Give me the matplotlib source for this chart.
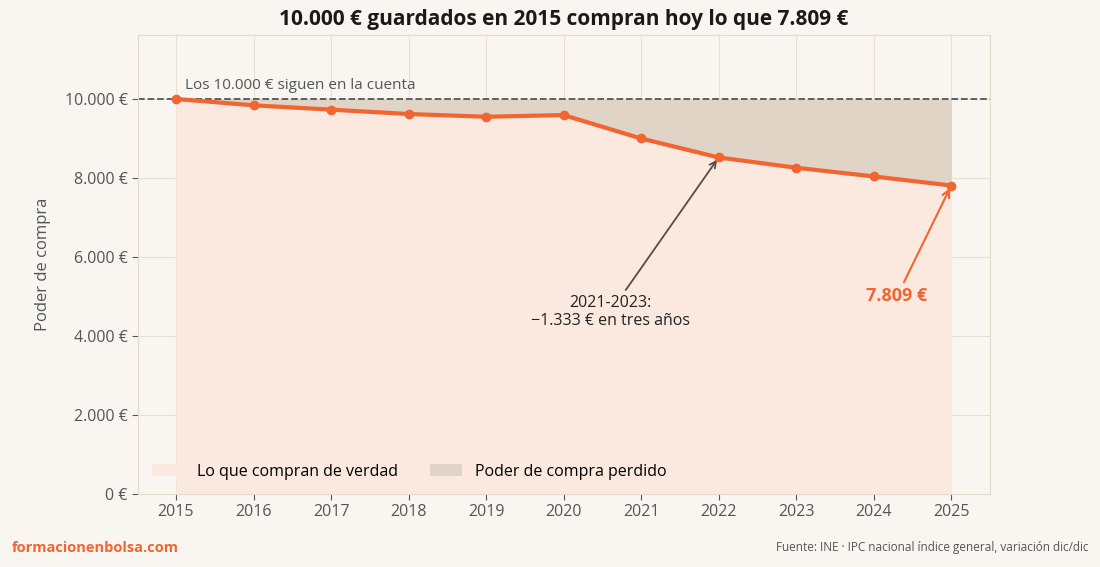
import matplotlib
matplotlib.use("Agg")
import matplotlib.pyplot as plt
from matplotlib.ticker import FuncFormatter

years = [2015, 2016, 2017, 2018, 2019, 2020, 2021, 2022, 2023, 2024, 2025]
values = [10000, 9840, 9730, 9620, 9550, 9593, 9000, 8520, 8260, 8040, 7809]
base = 10000

plt.rcParams['font.family'] = ['Open Sans', 'DejaVu Sans']
bg = '#f9f6f1'
orange = '#f26430'
fig = plt.figure(figsize=(11, 5.67), dpi=100, facecolor=bg)
ax = fig.add_axes([138/1100, 1-494/567, (990-138)/1100, (494-35)/567])
ax.set_facecolor(bg)

ax.fill_between(years, 0, values, color='#fbe9df', label='Lo que compran de verdad', lw=0)
ax.fill_between(years, values, base, color='#dfd4c5', label='Poder de compra perdido', lw=0)
ax.axhline(base, color='#555', ls='--', lw=1.3)
ax.plot(years, values, color=orange, lw=3, marker='o', ms=6, zorder=5)

ax.set_xlim(2014.51, 2025.5)
ax.set_ylim(0, 11620)
ax.set_xticks(years)
ax.set_yticks(range(0, 10001, 2000))
ax.yaxis.set_major_formatter(FuncFormatter(lambda v, p: f"{int(v):,}".replace(",", ".") + " €"))
ax.grid(color='#e8e0d2', lw=0.8)
ax.set_axisbelow(True)
for s in ax.spines.values():
    s.set_color('#e3dccd')
ax.tick_params(colors='#555', labelsize=11.5, length=4)
ax.set_ylabel('Poder de compra', fontsize=12, color='#555', labelpad=10)
ax.set_title('10.000 € guardados en 2015 compran hoy lo que 7.809 €', fontsize=15, fontweight='bold', color='#1a1a1a', pad=7)

ax.text(2015.12, 10150, 'Los 10.000 € siguen en la cuenta', fontsize=11, color='#555', va='bottom')
ax.annotate('2021-2023:\n−1.333 € en tres años', xy=(2022, values[7]), xytext=(2020.6, 4600),
            ha='center', va='center', fontsize=11.5, color='#222',
            arrowprops=dict(arrowstyle='->', color='#5a4a42', lw=1.3))
ax.annotate('7.809 €', xy=(2025, values[10]), xytext=(2024.3, 5000),
            ha='center', va='center', fontsize=13, fontweight='bold', color=orange,
            arrowprops=dict(arrowstyle='->', color=orange, lw=1.5))
leg = ax.legend(loc='lower left', ncol=2, frameon=False, fontsize=11.5, bbox_to_anchor=(0.0, 0.0), columnspacing=2)
fig.text(12/1100, 1-548/567, 'formacionenbolsa.com', color=orange, fontsize=10.5, fontweight='bold', va='center')
fig.text(1088/1100, 1-548/567, 'Fuente: INE · IPC nacional índice general, variación dic/dic', color='#555', fontsize=8.5, ha='right', va='center')
fig.savefig('out.png', dpi=100, facecolor=bg)
